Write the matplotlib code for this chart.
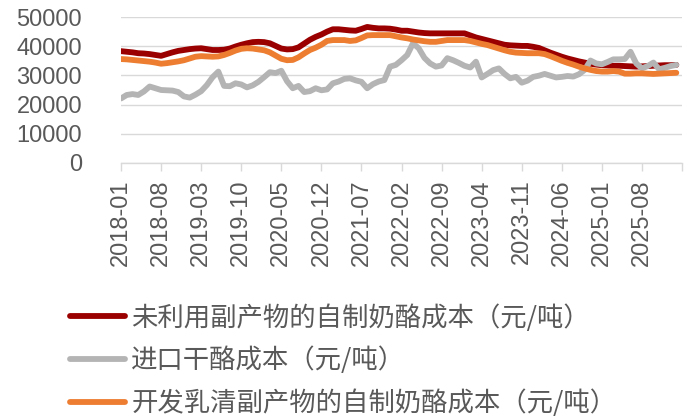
import numpy as np
import matplotlib
matplotlib.use('Agg')
import matplotlib.pyplot as plt

plt.rcParams['font.family'] = ['Liberation Sans', 'Noto Sans CJK SC', 'DejaVu Sans']

# monthly, 2018-01 .. 2026-02
months = [f'{y}-{m:02d}' for y in range(2018, 2027) for m in range(1, 13)][:98]

red = [38300, 38100, 37900, 37600, 37500, 37300, 37000, 36700, 37300, 37900,
       38400, 38700, 39000, 39200, 39300, 39000, 38700, 38700, 38800, 39200,
       39900, 40500, 41000, 41400, 41500, 41400, 41000, 40100, 39200, 38900,
       39000, 39600, 40900, 42200, 43200, 44000, 45000, 45800, 45800, 45600,
       45400, 45300, 45900, 46600, 46300, 46100, 46100, 46000, 45700, 45300,
       45300, 45000, 44700, 44500, 44400, 44400, 44400, 44400, 44400, 44400,
       44400, 43700, 43000, 42500, 42000, 41500, 41000, 40500, 40300, 40200,
       40100, 40100, 39800, 39400, 38600, 37800, 37100, 36400, 35800, 35300,
       34800, 34400, 34000, 33700, 33500, 33400, 33300, 33300, 33200, 33100,
       33000, 33100, 33200, 33300, 33400, 33500, 33500, 33600]

gray = [22100, 23300, 23600, 23300, 24500, 26200, 25600, 25000, 24900, 24800,
        24300, 22800, 22400, 23400, 24600, 26700, 29400, 31300, 26400, 26300,
        27300, 26900, 25900, 26600, 27800, 29400, 31100, 30800, 31600, 28000,
        25600, 26400, 24300, 24600, 25600, 24900, 25200, 27300, 27900, 28800,
        29000, 28300, 27800, 25600, 27000, 27900, 28400, 33000, 33600, 35200,
        37000, 41000, 39300, 36000, 34100, 33000, 33400, 35900, 35200, 34300,
        33300, 32700, 34700, 29300, 30500, 31800, 32400, 30500, 29000, 29500,
        27500, 28200, 29500, 29900, 30500, 29900, 29300, 29500, 29800, 29600,
        30400, 31900, 35100, 34100, 33800, 34600, 35500, 35500, 35600, 38100,
        34100, 32400, 33200, 34400, 32100, 32600, 33200, 33600]

orange = [35600, 35500, 35300, 35100, 34900, 34700, 34400, 34000, 34200, 34500,
          34800, 35200, 35800, 36400, 36600, 36500, 36400, 36500, 37000, 37700,
          38500, 39100, 39300, 39200, 38900, 38600, 37900, 36800, 35700, 35200,
          35300, 36200, 37500, 38700, 39500, 40500, 41800, 42100, 42100, 42100,
          41800, 42000, 42800, 43700, 43800, 43800, 43800, 43800, 43400, 43000,
          42700, 42300, 42000, 41700, 41500, 41500, 41800, 42100, 42100, 42100,
          42100, 41800, 41300, 40800, 40400, 39800, 39200, 38600, 38100, 37800,
          37700, 37600, 37600, 37600, 37300, 36600, 35800, 35000, 34300, 33700,
          33000, 32400, 31900, 31500, 31300, 31300, 31500, 31300, 30600, 30600,
          30700, 30700, 30600, 30500, 30600, 30700, 30800, 30900]

labels = ['未利用副产物的自制奶酪成本（元/吨）',
          '进口干酪成本（元/吨）',
          '开发乳清副产物的自制奶酪成本（元/吨）']

fig = plt.figure(figsize=(6.92, 4.19), dpi=100)
ax = fig.add_axes([0.1749, 0.611, 0.8107, 0.3484])

x = np.arange(len(months))
l1, = ax.plot(x, red, color='#9B0000', lw=4.2, solid_capstyle='round')
l2, = ax.plot(x, gray, color='#B4B4B4', lw=4.2, solid_capstyle='round')
l3, = ax.plot(x, orange, color='#ED7D31', lw=4.2, solid_capstyle='round')

ax.set_ylim(0, 50000)
ax.set_yticks(range(0, 50001, 10000))
ax.set_xlim(0, 98)
ticks = list(range(0, 99, 7))
ax.set_xticks(ticks)
ax.set_xticklabels([months[t] if t < len(months) else '' for t in ticks], rotation=90)

ax.grid(axis='y', color='#D9D9D9', lw=1)
ax.set_axisbelow(True)
for s in ['left', 'right', 'top']:
    ax.spines[s].set_visible(False)
ax.spines['bottom'].set_color('#D9D9D9')
ax.spines['bottom'].set_linewidth(1)
ax.tick_params(axis='y', length=0, labelsize=17, colors='#595959', pad=28)
ax.tick_params(axis='x', length=6, width=1, color='#D9D9D9', labelsize=17,
               labelcolor='#595959', pad=6)

leg = fig.legend([l1, l2, l3], labels, loc='upper left', bbox_to_anchor=(0.101, 0.2745),
                 frameon=False, handlelength=2.08, handletextpad=0.25, labelspacing=0.57,
                 borderpad=0, borderaxespad=0,
                 prop={'family': ['Noto Sans CJK SC', 'DejaVu Sans'], 'size': 19})
for t in leg.get_texts():
    t.set_color('#595959')

fig.savefig('out.png', dpi=100)
